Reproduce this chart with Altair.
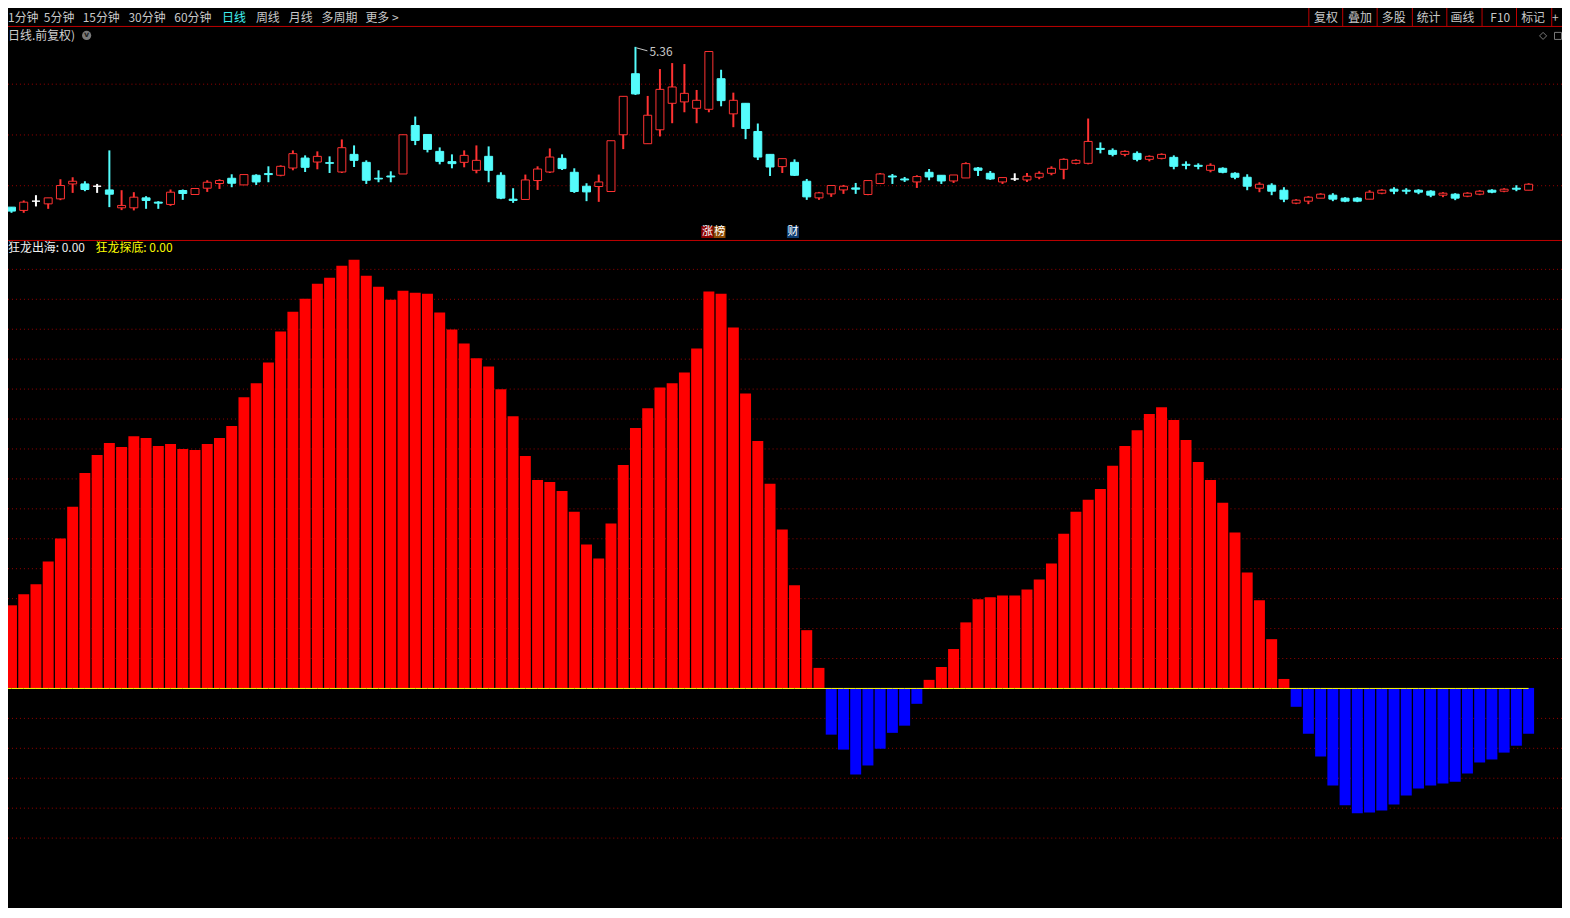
import altair as alt
import pandas as pd

W, H = 1561, 900
FONT = "Noto Sans CJK SC"
RED_C, CYAN, WHITE = "#ff3232", "#54fcfc", "#ffffff"
BAR_RED, BAR_BLUE, YELLOW = "#ff0000", "#0000ff", "#ffff00"
GRID, SEP, GRAYTXT = "#9a0000", "#c00000", "#c8c8c8"

# ---- daily candles (price) ----
opens = [3.72, 3.75, 3.717, 3.81, 3.783, 3.833, 3.983, 3.983, 3.96, 3.923,
         3.743, 3.743, 3.843, 3.80, 3.777, 3.917, 3.877, 3.94, 3.987, 4.04,
         3.973, 4.07, 4.087, 4.07, 4.143, 4.243, 4.203, 4.197, 4.103, 4.28,
         4.20, 4.04, 4.063, 4.083, 4.57, 4.48, 4.31, 4.207, 4.20, 4.12,
         4.26, 4.07, 3.83, 3.827, 4.017, 4.103, 4.24, 4.10, 3.96, 3.957,
         3.907, 4.477, 5.09, 4.387, 4.527, 4.793, 4.807, 4.743, 4.733, 5.04,
         4.687, 4.793, 4.51, 4.28, 4.157, 4.20, 4.01, 3.843, 3.883, 3.923,
         3.943, 3.877, 3.987, 4.063, 4.033, 4.003, 4.10, 4.07, 4.013, 4.043,
         4.143, 4.09, 4.003, 4.033, 4.023, 4.05, 4.09, 4.13, 4.19, 4.19,
         4.34, 4.32, 4.28, 4.29, 4.23, 4.24, 4.25, 4.18, 4.17, 4.12,
         4.14, 4.09, 4.05, 3.94, 3.97, 3.92, 3.79, 3.81, 3.84, 3.87,
         3.84, 3.84, 3.83, 3.89, 3.93, 3.92, 3.92, 3.91, 3.87, 3.88,
         3.86, 3.88, 3.92, 3.91, 3.94, 3.92]
highs = [3.75, 3.75, 3.817, 3.87, 3.843, 4.03, 4.05, 4.01, 3.983, 4.32,
         3.92, 3.90, 3.86, 3.81, 3.927, 3.927, 3.937, 4.02, 4.03, 4.08,
         4.077, 4.08, 4.16, 4.17, 4.32, 4.27, 4.31, 4.26, 4.43, 4.37,
         4.22, 4.12, 4.11, 4.477, 4.66, 4.48, 4.35, 4.28, 4.32, 4.37,
         4.36, 4.10, 3.94, 4.077, 4.16, 4.34, 4.28, 4.14, 3.99, 4.077,
         4.417, 4.863, 5.36, 4.867, 5.137, 5.197, 5.187, 4.927, 5.313, 5.13,
         4.90, 4.793, 4.59, 4.28, 4.237, 4.23, 4.033, 3.903, 3.967, 3.973,
         3.993, 4.017, 4.093, 4.083, 4.053, 4.07, 4.133, 4.07, 4.073, 4.20,
         4.153, 4.113, 4.047, 4.09, 4.093, 4.11, 4.16, 4.24, 4.23, 4.64,
         4.40, 4.34, 4.32, 4.31, 4.27, 4.29, 4.27, 4.21, 4.19, 4.19,
         4.15, 4.10, 4.08, 4.00, 3.99, 3.95, 3.83, 3.86, 3.89, 3.89,
         3.85, 3.85, 3.92, 3.93, 3.95, 3.94, 3.93, 3.92, 3.90, 3.89,
         3.90, 3.92, 3.93, 3.94, 3.97, 3.99]
lows = [3.72, 3.693, 3.693, 3.757, 3.733, 3.82, 3.893, 3.91, 3.893, 3.75,
        3.72, 3.717, 3.733, 3.733, 3.763, 3.823, 3.877, 3.903, 3.933, 3.95,
        3.973, 3.973, 4.00, 4.06, 4.12, 4.103, 4.13, 4.093, 4.093, 4.153,
        3.983, 4.00, 4.00, 4.083, 4.373, 4.30, 4.18, 4.14, 4.15, 4.09,
        4.00, 3.83, 3.793, 3.827, 3.923, 4.093, 4.123, 3.893, 3.81, 3.803,
        3.907, 4.333, 4.877, 4.387, 4.46, 4.593, 4.703, 4.593, 4.703, 4.763,
        4.553, 4.433, 4.223, 4.063, 4.093, 4.063, 3.823, 3.823, 3.853, 3.883,
        3.883, 3.87, 3.983, 3.983, 4.003, 3.943, 4.02, 3.983, 3.993, 4.043,
        4.063, 4.023, 3.983, 4.013, 4.003, 4.03, 4.07, 4.03, 4.18, 4.18,
        4.29, 4.26, 4.26, 4.21, 4.21, 4.23, 4.13, 4.13, 4.13, 4.10,
        4.09, 4.03, 3.92, 3.90, 3.87, 3.80, 3.78, 3.78, 3.84, 3.81,
        3.80, 3.80, 3.83, 3.88, 3.88, 3.88, 3.88, 3.85, 3.85, 3.82,
        3.85, 3.87, 3.89, 3.90, 3.91, 3.92]
closes = [3.75, 3.71, 3.80, 3.81, 3.843, 3.967, 4.01, 3.927, 3.96, 3.88,
          3.767, 3.85, 3.817, 3.79, 3.90, 3.887, 3.937, 4.00, 4.017, 3.99,
          4.077, 4.003, 4.077, 4.16, 4.287, 4.15, 4.26, 4.19, 4.347, 4.22,
          4.02, 4.033, 4.053, 4.477, 4.42, 4.33, 4.21, 4.187, 4.27, 4.22,
          4.12, 3.84, 3.817, 4.023, 4.133, 4.253, 4.137, 3.907, 3.903, 4.003,
          4.417, 4.863, 4.887, 4.673, 4.933, 4.957, 4.893, 4.823, 5.313, 4.82,
          4.823, 4.54, 4.253, 4.153, 4.237, 4.07, 3.853, 3.893, 3.967, 3.96,
          3.93, 4.017, 4.083, 4.053, 4.023, 4.057, 4.053, 4.013, 4.073, 4.187,
          4.12, 4.033, 4.047, 4.033, 4.06, 4.09, 4.14, 4.23, 4.22, 4.41,
          4.33, 4.28, 4.31, 4.23, 4.26, 4.28, 4.16, 4.17, 4.16, 4.17,
          4.10, 4.05, 3.96, 3.98, 3.91, 3.83, 3.82, 3.85, 3.88, 3.83,
          3.81, 3.81, 3.90, 3.92, 3.91, 3.91, 3.90, 3.87, 3.89, 3.84,
          3.89, 3.91, 3.90, 3.93, 3.93, 3.98]

# ---- 狂龙出海 histogram ----
osc = [24.9, 27.6, 31.3, 34.6, 42.2, 49.9, 60.5, 71.8, 77.8, 81.8,
       80.5, 84.1, 83.5, 80.8, 81.5, 79.8, 79.5, 81.5, 83.5, 87.5,
       97.1, 101.8, 108.7, 119.1, 125.7, 130.0, 135.0, 137.0, 141.0, 143.0,
       137.7, 134.0, 129.7, 132.7, 132.0, 131.7, 125.4, 119.7, 115.1, 110.1,
       107.4, 99.8, 90.8, 77.5, 69.5, 68.8, 65.8, 58.9, 47.9, 43.2,
       54.9, 74.5, 86.8, 93.4, 100.4, 101.8, 105.4, 113.4, 132.4, 131.7,
       120.4, 98.4, 82.5, 68.2, 52.9, 34.3, 19.3, 6.7, -15.6, -20.6,
       -28.9, -25.9, -20.3, -15.0, -12.6, -5.3, 2.7, 7.0, 13.0, 21.9,
       29.6, 30.3, 30.9, 30.9, 32.9, 36.2, 41.6, 51.5, 58.9, 62.9,
       66.5, 74.2, 80.8, 86.1, 91.5, 93.8, 89.5, 82.8, 75.5, 69.5,
       61.9, 51.9, 38.6, 29.3, 16.3, 3.0, -6.3, -15.3, -22.9, -32.6,
       -39.2, -41.9, -41.6, -40.9, -38.9, -35.9, -33.6, -32.6, -31.9, -31.3,
       -28.6, -24.9, -23.9, -21.6, -19.3, -15.3]

price_grid = [4.985, 4.475, 3.965]
osc_grid = [140, 130, 120, 110, 100, 90, 80, 70, 60, 50, 40, 30, 20, 10,
            -10, -20, -30, -40, -50]

tag_idx = [58, 59, 65]
tag_txt = ["涨", "榜", "财"]
tag_bg = ["#8c0000", "#8c4800", "#0c3a6e"]

# UI labels (pixel positions in chart space)
ui_label = ["1分钟", "5分钟", "15分钟", "30分钟", "60分钟", "日线", "周线", "月线",
            "多周期", "更多 >", "复权", "叠加", "多股", "统计", "画线", "F10", "标记", "+",
            "日线.前复权)", "狂龙出海: 0.00", "狂龙探底: 0.00"]
ui_x = [0, 36, 75, 121, 167, 215, 249, 282, 315, 359,
        1312, 1346, 1380, 1415, 1449, 1489, 1520, 1551, 0, 0, 88]
ui_y = [8] * 18 + [26, 239, 239]
ui_col = [GRAYTXT] * 5 + ["#40f0f0"] + [GRAYTXT] * 12 + ["#d0d0d0", "#f0f0f0", YELLOW]

n = len(opens)
df = pd.DataFrame({"i": list(range(n)), "o": opens, "h": highs, "l": lows,
                   "c": closes, "v": osc})
df["kind"] = ["up" if c > o else ("down" if c < o else "flat") for o, c in zip(opens, closes)]
df["bl"] = df["i"] - 0.3255
df["br"] = df["i"] + 0.3255
df["xl"] = df["i"] - 0.4475
df["xr"] = df["i"] + 0.4475
df["zero"] = 0.0
df["sign"] = ["pos" if v >= 0 else "neg" for v in osc]

XS = alt.Scale(domain=[0, 125], range=[-8.79, 1527.46], nice=False, zero=False)
YP = alt.Scale(domain=[3.5, 5.5], range=[223, 23], nice=False, zero=False)
YV = alt.Scale(domain=[-60, 140], range=[861.4, 260.0], nice=False, zero=False)
KINDS = ["up", "down", "flat"]

base = alt.Chart(df)

grid_top = alt.Chart(pd.DataFrame({"g": price_grid})).mark_rule(
    color=GRID, strokeDash=[1, 3], strokeWidth=1).encode(
    y=alt.Y("g:Q", scale=YP, axis=None), x=alt.value(0), x2=alt.value(W))

grid_bot = alt.Chart(pd.DataFrame({"g": osc_grid})).mark_rule(
    color=GRID, strokeDash=[1, 3], strokeWidth=1, yOffset=0.5).encode(
    y=alt.Y("g:Q", scale=YV, axis=None), x=alt.value(0), x2=alt.value(W))

wick = base.mark_rule(strokeWidth=2).encode(
    x=alt.X("i:Q", scale=XS, axis=None),
    y=alt.Y("h:Q", scale=YP, axis=None), y2="l:Q",
    color=alt.Color("kind:N", scale=alt.Scale(domain=KINDS, range=[RED_C, CYAN, WHITE]), legend=None))

body = base.mark_rect(strokeWidth=1).encode(
    x=alt.X("bl:Q", scale=XS, axis=None), x2="br:Q",
    y=alt.Y("o:Q", scale=YP, axis=None), y2="c:Q",
    fill=alt.Fill("kind:N", scale=alt.Scale(domain=KINDS, range=["#000000", CYAN, WHITE]), legend=None),
    stroke=alt.Stroke("kind:N", scale=alt.Scale(domain=KINDS, range=[RED_C, CYAN, WHITE]), legend=None))

bars = base.mark_rect().encode(
    x=alt.X("xl:Q", scale=XS, axis=None), x2="xr:Q",
    y=alt.Y("v:Q", scale=YV, axis=None), y2="zero:Q",
    color=alt.Color("sign:N", scale=alt.Scale(domain=["pos", "neg"], range=[BAR_RED, BAR_BLUE]), legend=None))

zero_line = base.mark_line(color=YELLOW, strokeWidth=1, yOffset=0.5).encode(
    x=alt.X("i:Q", scale=XS, axis=None),
    y=alt.Y("zero:Q", scale=YV, axis=None))

top_df = df.loc[[df["h"].idxmax()]]
hi_text = alt.Chart(top_df).mark_text(
    align="left", baseline="middle", dx=14, dy=5, color=GRAYTXT, fontSize=12, font=FONT).encode(
    x=alt.X("i:Q", scale=XS, axis=None), y=alt.Y("h:Q", scale=YP, axis=None),
    text=alt.Text("h:Q", format=".2f"))
hi_ptr = alt.Chart(top_df).mark_rule(
    color=GRAYTXT, strokeWidth=1, xOffset=1, yOffset=1, x2Offset=12, y2Offset=4).encode(
    x=alt.X("i:Q", scale=XS, axis=None), x2="i:Q",
    y=alt.Y("h:Q", scale=YP, axis=None), y2="h:Q")

tag_df = pd.DataFrame({"i": tag_idx, "t": tag_txt, "bg": tag_bg})
tag_df["tl"] = tag_df["i"] - 0.5
tag_df["tr"] = tag_df["i"] + 0.48
tag_rect = alt.Chart(tag_df).mark_rect(xOffset=-1.5, x2Offset=-1.5).encode(
    x=alt.X("tl:Q", scale=XS, axis=None), x2="tr:Q",
    y=alt.value(217), y2=alt.value(229),
    color=alt.Color("bg:N", scale=None))
tag_text = alt.Chart(tag_df).mark_text(
    color="#ffffff", fontSize=11, font=FONT, baseline="middle", align="center", dx=-1.5).encode(
    x=alt.X("i:Q", scale=XS, axis=None), y=alt.value(223), text="t:N")

ui_df = pd.DataFrame({"tx": ui_x, "ty": ui_y, "label": ui_label, "col": ui_col})
ui_text = alt.Chart(ui_df).mark_text(align="left", baseline="middle", fontSize=12, font=FONT).encode(
    x=alt.X("tx:Q", scale=None, axis=None), y=alt.Y("ty:Q", scale=None, axis=None),
    text="label:N", color=alt.Color("col:N", scale=None))

seps_x = [1306.7, 1340.7, 1375.3, 1410.7, 1445.3, 1480.7, 1515.3, 1550.7]
lines_df = pd.DataFrame({
    "lx": [0, 0] + seps_x,
    "lx2": [W, W] + seps_x,
    "ly": [16.5, 231.5] + [-3] * len(seps_x),
    "ly2": [16.5, 231.5] + [16.5] * len(seps_x),
})
sep_lines = alt.Chart(lines_df).mark_rule(color=SEP, strokeWidth=1).encode(
    x=alt.X("lx:Q", scale=None, axis=None), x2="lx2:Q",
    y=alt.Y("ly:Q", scale=None, axis=None), y2="ly2:Q")

icon_df = pd.DataFrame({"px": [79], "py": [25.5]})
circle_icon = alt.Chart(icon_df).mark_point(filled=True, size=85, color="#7a7a7a", opacity=1).encode(
    x=alt.X("px:Q", scale=None, axis=None), y=alt.Y("py:Q", scale=None, axis=None))
chev = alt.Chart(icon_df).mark_text(text="v", fontSize=8, fontWeight="bold", color="#202020",
                                    font="DejaVu Sans", baseline="middle").encode(
    x=alt.X("px:Q", scale=None, axis=None), y=alt.Y("py:Q", scale=None, axis=None))
shape_df = pd.DataFrame({"px": [1542, 1557], "py": [26, 26], "shp": ["diamond", "square"]})
shapes = alt.Chart(shape_df).mark_point(filled=False, size=50, color="#b0b0b0", strokeWidth=1).encode(
    x=alt.X("px:Q", scale=None, axis=None), y=alt.Y("py:Q", scale=None, axis=None),
    shape=alt.Shape("shp:N", scale=None))

chart = alt.layer(
    grid_top, grid_bot, wick, body, bars, zero_line, hi_ptr, hi_text,
    tag_rect, tag_text, sep_lines, ui_text, circle_icon, chev, shapes
).resolve_scale(
    x="independent", y="independent", color="independent",
    fill="independent", stroke="independent", shape="independent"
).properties(
    width=W, height=H, padding=0,
    autosize=alt.AutoSizeParams(type="none"),
    background="#000000"
).configure_view(strokeWidth=0)

chart.save("out.html", embed_options={"renderer": "svg", "actions": False})
